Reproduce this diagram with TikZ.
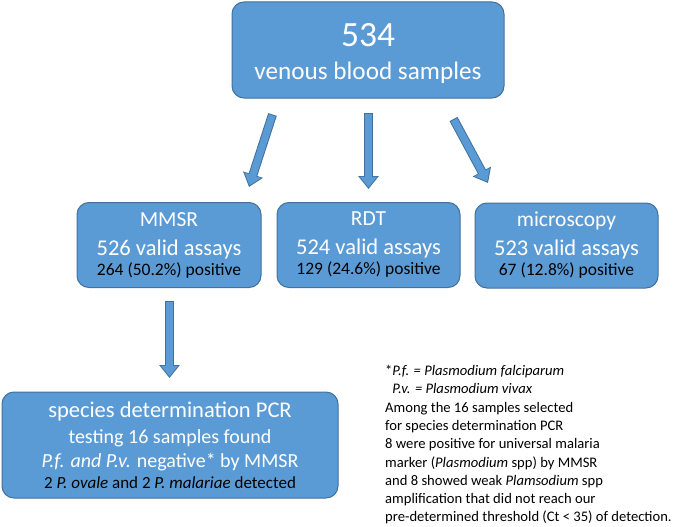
\documentclass[tikz,border=0pt]{standalone}
\usepackage{fontspec}
\setmainfont{Carlito}
\usetikzlibrary{arrows.meta}
\definecolor{boxfill}{HTML}{5B9BD5}
\definecolor{boxline}{HTML}{41719C}
\tikzset{
  box/.style={draw=boxline, fill=boxfill, line width=1pt, rounded corners=12pt,
    align=center, text=white, inner sep=0pt},
  assaybox/.style={box, minimum width=183pt, minimum height=85pt,
    font=\fontsize{22.5}{29}\selectfont},
  arrowout/.style={line width=9pt, draw=boxline, -{Triangle[width=20pt,length=13pt]}},
  arrowin/.style={line width=7pt, draw=boxfill, shorten <=1pt, shorten >=1.7pt,
    -{Triangle[width=16.5pt,length=10.5pt]}}
}
\newcommand{\blockarrow}[2]{%
  \draw[arrowout] (#1) -- (#2);
  \draw[arrowin] (#1) -- (#2);}
\newcommand{\assay}[3]{{\fontsize{21.5}{24}\selectfont #1}\\
  #2\\[-9pt]
  {\color{black}\fontsize{17.5}{20}\selectfont #3}}
\begin{document}
\begin{tikzpicture}[x=1pt,y=-1pt]
\useasboundingbox (0,0) rectangle (685,527);
% boxes
\node[box, minimum width=272pt, minimum height=96pt, font=\fontsize{25.2}{33}\selectfont] (samples) at (368,50)
  {\rule{0pt}{30pt}{\fontsize{35.5}{40}\selectfont 534}\\ venous blood samples};
\node[assaybox, minimum width=184pt] (mmsr) at (169,245)
  {\assay{MMSR}{526 valid assays}{264 (50.2\%) positive}};
\node[assaybox] (rdt) at (368.5,245)
  {\assay{RDT}{524 valid assays}{129 (24.6\%) positive}};
\node[assaybox] (micro) at (566.5,245.5)
  {\assay{microscopy}{523 valid assays}{67 (12.8\%) positive}};
\node[box, minimum width=336pt, minimum height=106pt, font=\fontsize{20}{26}\selectfont] (species) at (170,445)
  {{\fontsize{22.5}{24}\selectfont species determination PCR}\\
   testing 16 samples found\\[-2pt]
   \textit{P.f. and P.v.} negative* by MMSR\\[-5pt]
   {\color{black}\fontsize{17}{21}\selectfont 2 \textit{P. ovale} and 2 \textit{P. malariae} detected}};
% footnote
\node[anchor=north west, align=left, inner sep=0pt, font=\fontsize{14.6}{18.3}\selectfont] (note) at (385,365)
  {*\textit{P.f. = Plasmodium falciparum}\\
   \hphantom{*}\textit{P.v. = Plasmodium vivax}\\
   Among the 16 samples selected\\
   for species determination PCR\\
   8 were positive for universal malaria\\
   marker (\textit{Plasmodium} spp) by MMSR\\
   and 8 showed weak \textit{Plamsodium} spp\\
   amplification that did not reach our\\
   pre-determined threshold (Ct < 35) of detection.};
% arrows
\coordinate (l1) at (272.5,114.5); \coordinate (l2) at (249,187);
\coordinate (m1) at (368.5,113);   \coordinate (m2) at (368.5,189);
\coordinate (r1) at (453.5,119);   \coordinate (r2) at (488,183);
\coordinate (d1) at (169.5,301);   \coordinate (d2) at (169.5,378);
\blockarrow{l1}{l2}
\blockarrow{m1}{m2}
\blockarrow{r1}{r2}
\blockarrow{d1}{d2}
\end{tikzpicture}
\end{document}
